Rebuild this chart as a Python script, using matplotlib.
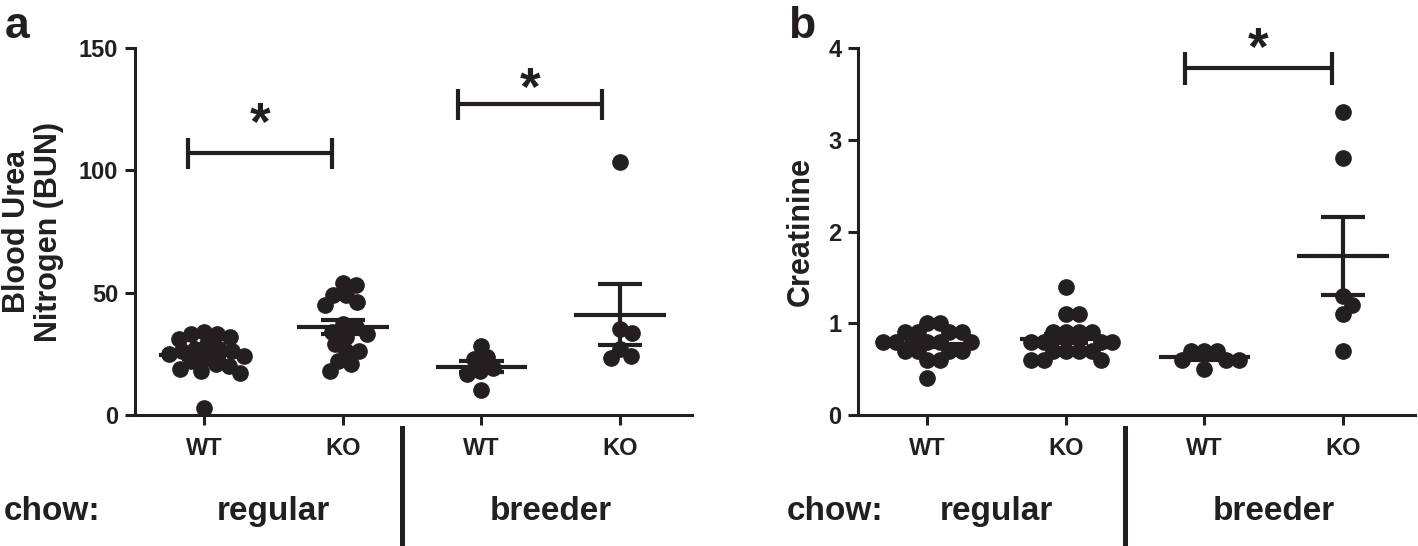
# Blood urea nitrogen (a) and creatinine (b) for WT / KO mice on regular or breeder chow.
# Scatter of individual mice with mean +/- SEM, significance bars on top.

import numpy as np
import matplotlib
matplotlib.use("Agg")
import matplotlib.pyplot as plt
from matplotlib.transforms import blended_transform_factory

plt.rcParams["font.family"] = ["Liberation Sans", "DejaVu Sans"]
plt.rcParams["font.weight"] = "bold"

# --- Data -------------------------------------------------------------
genotypes = ["WT", "KO", "WT", "KO"]
chow_types = ["regular", "breeder"]

bun_wt_regular = [34, 33, 33, 32, 31, 29, 27, 27, 26, 26, 25, 24, 23, 22, 21, 20, 19, 18, 17, 3]
bun_ko_regular = [54, 53, 49, 49, 46, 45, 37, 36, 34, 33, 32, 29, 26, 26, 22, 21, 18]
bun_wt_breeder = [28.2, 23.6, 22.7, 19.1, 18.1, 16.8, 10.2]
bun_ko_breeder = [103.5, 35.1, 33.4, 27.0, 24.2, 23.2]

cre_wt_regular = [1.0, 1.0, 0.9, 0.9, 0.9, 0.9, 0.8, 0.8, 0.8, 0.8, 0.8,
                  0.7, 0.7, 0.7, 0.7, 0.6, 0.6, 0.4]
cre_ko_regular = [1.4, 1.1, 1.1, 0.9, 0.9, 0.9, 0.9, 0.8, 0.8, 0.8, 0.8,
                  0.7, 0.7, 0.7, 0.7, 0.6, 0.6, 0.6]
cre_wt_breeder = [0.7, 0.7, 0.7, 0.6, 0.6, 0.6, 0.5]
cre_ko_breeder = [3.3, 2.8, 1.3, 1.2, 1.1, 0.7]

# significance bars: (left group pos, right group pos, bar height, star height)
bun_sig = [(0.88, 1.92, 107, 118), (2.83, 3.87, 127, 132.5)]
cre_sig = [(2.86, 3.92, 3.78, 3.97)]

INK = "#231f20"


def swarm_x(ax, x0, values, spacing_px=12.5, max_px=46):
    """Spread points sideways so the dots don't sit on top of each other."""
    pts = ax.transData.transform(np.column_stack([np.full(len(values), x0), values]))
    x0_px = pts[0, 0]
    unit_px = ax.transData.transform((x0 + 1, 0))[0] - x0_px
    cands = [0.0]
    for k in range(1, int(max_px) + 1):
        cands += [float(k), float(-k)]
    placed = []
    offs = []
    for y in pts[:, 1]:
        best, best_d = None, -1
        for c in cands:
            d = min([np.hypot(c - px, y - py) for px, py in placed] or [1e9])
            if d >= spacing_px:
                best = c
                break
            if d > best_d:
                best_d, best_c = d, c
        if best is None:
            best = best_c
        placed.append((best, y))
        offs.append(best)
    return x0 + np.array(offs) / unit_px


def draw_panel(ax, groups, ylim, yticks, sig, tick_half):
    ax.set_xlim(0.5, 4.52)
    ax.set_ylim(*ylim)
    for i, vals in enumerate(groups):
        x0 = i + 1
        vals = np.array(vals, dtype=float)
        xs = swarm_x(ax, x0, vals)
        ax.plot(xs, vals, "o", ms=11, color=INK, mec=INK, clip_on=False, zorder=2)
        m = vals.mean()
        s = vals.std(ddof=1) / np.sqrt(len(vals))
        ax.hlines(m, x0 - 0.33, x0 + 0.33, color=INK, lw=3, zorder=3)
        ax.vlines(x0, m - s, m + s, color=INK, lw=3, zorder=3)
        ax.hlines([m - s, m + s], x0 - 0.16, x0 + 0.16, color=INK, lw=3, zorder=3)

    for x1, x2, yb, ys in sig:
        ax.hlines(yb, x1, x2, color=INK, lw=3, clip_on=False)
        ax.vlines([x1, x2], yb - tick_half, yb + tick_half, color=INK, lw=3, clip_on=False)
        ax.text((x1 + x2) / 2, ys, "*", ha="center", va="center", fontsize=38,
                fontweight="bold", color=INK, clip_on=False)

    for side in ["top", "right"]:
        ax.spines[side].set_visible(False)
    for side in ["left", "bottom"]:
        ax.spines[side].set_linewidth(2.2)
        ax.spines[side].set_color(INK)
    ax.set_yticks(yticks)
    ax.set_xticks([1, 2, 3, 4])
    ax.set_xticklabels(genotypes)
    ax.tick_params(axis="both", length=7, width=2.2, color=INK, labelsize=17,
                   labelcolor=INK)
    ax.tick_params(axis="x", pad=9)
    ax.tick_params(axis="y", pad=5)

    trans = blended_transform_factory(ax.transData, ax.transAxes)
    ax.plot([2.43, 2.43], [-0.035, -0.36], color=INK, lw=3.6, transform=trans,
            clip_on=False)
    ax.text(1.5, -0.262, chow_types[0], transform=trans, ha="center", va="center",
            fontsize=24, color=INK)
    ax.text(3.5, -0.262, chow_types[1], transform=trans, ha="center", va="center",
            fontsize=24, color=INK)


fig = plt.figure(figsize=(14.18, 5.46), dpi=100)
ax_a = fig.add_axes([0.0952, 0.2399, 0.3928, 0.6722])
ax_b = fig.add_axes([0.6051, 0.2399, 0.3928, 0.6722])

draw_panel(ax_a, [bun_wt_regular, bun_ko_regular, bun_wt_breeder, bun_ko_breeder],
           (0, 150), [0, 50, 100, 150], bun_sig, 6.3)
draw_panel(ax_b, [cre_wt_regular, cre_ko_regular, cre_wt_breeder, cre_ko_breeder],
           (0, 4), [0, 1, 2, 3, 4], cre_sig, 0.18)

ax_a.text(-0.183, 0.5, "Blood Urea\nNitrogen (BUN)", transform=ax_a.transAxes,
          rotation=90, ha="center", va="center", fontsize=22, linespacing=1.1,
          color=INK)
ax_b.text(-0.102, 0.5, "Creatinine", transform=ax_b.transAxes, rotation=90,
          ha="center", va="center", fontsize=22, color=INK)

fig.text(0.0367, 0.064, "chow:", ha="center", va="center", fontsize=24, color=INK)
fig.text(0.589, 0.064, "chow:", ha="center", va="center", fontsize=24, color=INK)
fig.text(0.003, 0.93, "a", ha="left", va="baseline", fontsize=32, color=INK)
fig.text(0.556, 0.93, "b", ha="left", va="baseline", fontsize=32, color=INK)

fig.savefig("out.png", dpi=100)
